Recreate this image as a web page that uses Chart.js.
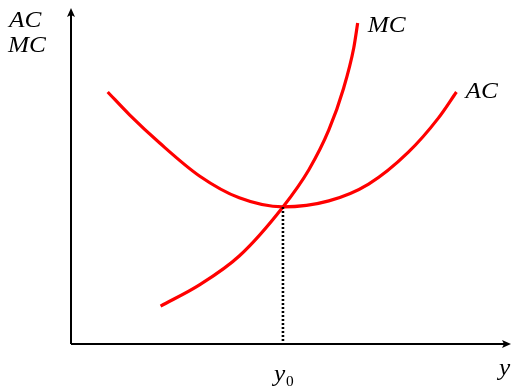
<!DOCTYPE html>
<html>
<head>
<meta charset="utf-8">
<script src="https://cdn.jsdelivr.net/npm/chart.js@4/dist/chart.umd.min.js"></script>
<style>
  html, body { margin: 0; padding: 0; background: #fff; }
  #wrap { width: 512px; height: 389px; }
</style>
</head>
<body>
<div id="wrap"><canvas id="c" width="512" height="389"></canvas></div>
<script>
// Average cost curve (U-shaped): output y, cost
const acX = [0.84, 1.34, 2.03, 2.94, 3.85, 4.85, 5.90, 6.81, 7.72, 8.41, 8.82];
const acY = [7.50, 6.82, 5.98, 5.00, 4.35, 4.08, 4.26, 4.76, 5.71, 6.73, 7.50];
// Marginal cost curve, crossing AC at its minimum
const mcX = [2.05, 2.94, 3.85, 4.85, 5.44, 5.90, 6.24, 6.47, 6.56];
const mcY = [1.13, 1.76, 2.62, 4.08, 5.18, 6.37, 7.62, 8.81, 9.55];
// Output level where AC is minimal
const y0 = 4.85;
const y0Cost = 4.08;

const toPts = (xs, ys) => xs.map((x, i) => ({ x: x, y: ys[i] }));

const serif = '"Liberation Serif", "DejaVu Serif", serif';

// Draw a slightly widened serif label with its left edge at x and baseline at y
function label(ctx, text, x, y, size, italic) {
  ctx.save();
  ctx.font = (italic ? 'italic ' : '') + size + 'px ' + serif;
  ctx.textAlign = 'left';
  ctx.textBaseline = 'alphabetic';
  ctx.translate(x, y);
  ctx.scale(1.1, 1);
  ctx.fillText(text, 0, 0);
  ctx.restore();
}

// Axes with arrowheads, the y0 guide and the italic labels
const decorations = {
  id: 'decorations',
  afterDatasetsDraw(chart) {
    const ctx = chart.ctx;
    const xs = chart.scales.x, ys = chart.scales.y;
    const ox = xs.getPixelForValue(0), oy = ys.getPixelForValue(0);
    const xEnd = xs.getPixelForValue(xs.max) + 3;
    const yEnd = ys.getPixelForValue(ys.max);
    ctx.save();
    ctx.strokeStyle = '#000';
    ctx.fillStyle = '#000';
    ctx.lineWidth = 2;
    ctx.beginPath();
    ctx.moveTo(ox, oy); ctx.lineTo(xEnd - 6, oy);
    ctx.moveTo(ox, oy); ctx.lineTo(ox, yEnd + 6);
    ctx.stroke();
    // arrowheads
    ctx.beginPath();
    ctx.moveTo(xEnd, oy); ctx.lineTo(xEnd - 9, oy - 4); ctx.lineTo(xEnd - 7, oy); ctx.lineTo(xEnd - 9, oy + 4); ctx.closePath();
    ctx.fill();
    ctx.beginPath();
    ctx.moveTo(ox, yEnd); ctx.lineTo(ox - 4, yEnd + 9); ctx.lineTo(ox, yEnd + 7); ctx.lineTo(ox + 4, yEnd + 9); ctx.closePath();
    ctx.fill();

    // dotted guide from the minimum of AC down to the output axis
    const gx = xs.getPixelForValue(y0);
    ctx.beginPath();
    ctx.setLineDash([2, 2]);
    ctx.lineWidth = 2.6;
    ctx.moveTo(gx, ys.getPixelForValue(y0Cost));
    ctx.lineTo(gx, oy);
    ctx.stroke();
    ctx.setLineDash([]);
    ctx.restore();

    // labels
    ctx.save();
    ctx.fillStyle = '#000';
    label(ctx, 'AC', 9, 27, 23, true);
    label(ctx, 'MC', 8, 52, 23, true);
    const mcEnd = mcX.length - 1;
    label(ctx, 'MC', xs.getPixelForValue(mcX[mcEnd]) + 10, ys.getPixelForValue(mcY[mcEnd]) + 9, 23, true);
    const acEnd = acX.length - 1;
    label(ctx, 'AC', xs.getPixelForValue(acX[acEnd]) + 9, ys.getPixelForValue(acY[acEnd]) + 6, 23, true);

    // output axis labels
    label(ctx, 'y', gx - 9, 381, 23, true);
    label(ctx, '0', gx + 3, 386, 14, false);
    label(ctx, 'y', 499, 375, 23, true);
    ctx.restore();
  }
};

new Chart(document.getElementById('c'), {
  type: 'scatter',
  data: {
    datasets: [
      {
        label: 'AC',
        data: toPts(acX, acY),
        showLine: true,
        borderColor: '#ff0000',
        borderWidth: 3.2,
        pointRadius: 0,
        tension: 0.4,
        cubicInterpolationMode: 'monotone'
      },
      {
        label: 'MC',
        data: toPts(mcX, mcY),
        showLine: true,
        borderColor: '#ff0000',
        borderWidth: 3.2,
        pointRadius: 0,
        cubicInterpolationMode: 'monotone'
      }
    ]
  },
  options: {
    responsive: false,
    animation: false,
    layout: { padding: { left: 71, right: 4, top: 8, bottom: 45 } },
    plugins: { legend: { display: false }, tooltip: { enabled: false } },
    scales: {
      x: { type: 'linear', min: 0, max: 10, display: false },
      y: { type: 'linear', min: 0, max: 10, display: false }
    }
  },
  plugins: [decorations]
});
</script>
</body>
</html>
